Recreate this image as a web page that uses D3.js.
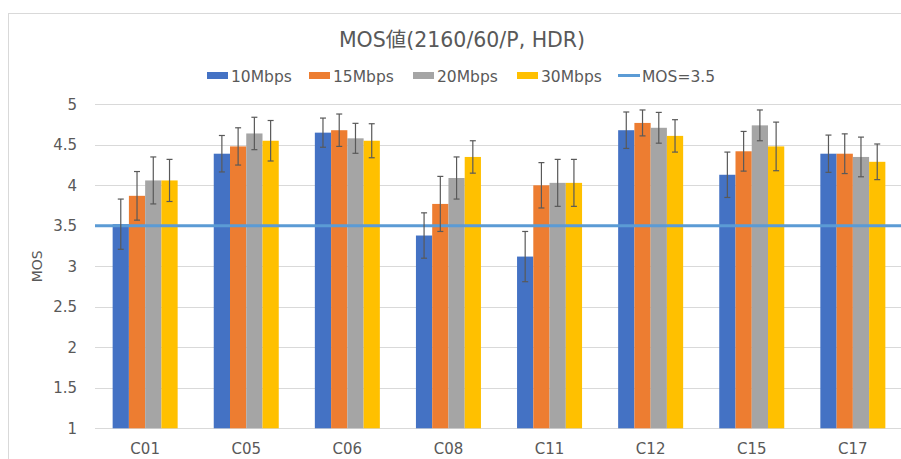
<!DOCTYPE html>
<html><head><meta charset="utf-8">
<script src="https://cdn.jsdelivr.net/npm/d3@7"></script>
<style>
html,body{margin:0;padding:0;background:#fff;}
svg text{font-family:"DejaVu Sans","Noto Sans CJK JP",sans-serif;fill:#595959;}
</style></head>
<body><svg id="c" width="901" height="459"></svg>
<script>
const categories = ["C01","C05","C06","C08","C11","C12","C15","C17"];
const seriesNames = ["10Mbps","15Mbps","20Mbps","30Mbps"];
const v10 = [3.52, 4.39, 4.65, 3.38, 3.12, 4.68, 4.13, 4.39];
const v15 = [3.87, 4.48, 4.68, 3.77, 4.00, 4.77, 4.42, 4.39];
const v20 = [4.06, 4.64, 4.58, 4.09, 4.03, 4.71, 4.74, 4.35];
const v30 = [4.06, 4.55, 4.55, 4.35, 4.03, 4.61, 4.48, 4.29];
const e10 = [0.31, 0.225, 0.18, 0.28, 0.31, 0.225, 0.28, 0.23];
const e15 = [0.30, 0.23, 0.20, 0.34, 0.28, 0.16, 0.245, 0.245];
const e20 = [0.29, 0.20, 0.185, 0.26, 0.29, 0.19, 0.19, 0.245];
const e30 = [0.26, 0.25, 0.21, 0.20, 0.29, 0.20, 0.30, 0.22];
const yTicks = [1,1.5,2,2.5,3,3.5,4,4.5,5];
const refValue = 3.5;
const refLabel = "MOS=3.5";
const title = "MOS値(2160/60/P, HDR)";
const yLabel = "MOS";

const colors = ["#4472C4","#ED7D31","#A5A5A5","#FFC000"];
const refColor = "#5B9BD5";
const values = [v10,v15,v20,v30];
const errs = [e10,e15,e20,e30];

const svg = d3.select("#c");
// chart frame
svg.append("rect").attr("x",8.5).attr("y",13.5).attr("width",1000).attr("height",1000)
  .attr("fill","none").attr("stroke","#d9d9d9");

const x0 = d3.scaleBand().domain(categories).range([94.6, 903.4]).paddingInner(0.357).paddingOuter(0.1785);
const x1 = d3.scaleBand().domain(seriesNames).range([0, x0.bandwidth()]);
const y = d3.scaleLinear().domain([1,5]).range([428.3,104.3]);

// gridlines
svg.append("g").selectAll("line").data(yTicks).join("line")
  .attr("x1",95).attr("x2",901)
  .attr("y1",d=>Math.round(y(d))+0.5).attr("y2",d=>Math.round(y(d))+0.5)
  .attr("stroke","#d9d9d9").attr("stroke-width",1);

// y tick labels
svg.append("g").selectAll("text").data(yTicks).join("text")
  .attr("x",77).attr("y",d=>y(d)).attr("dy","0.36em")
  .attr("text-anchor","end").attr("font-size","15px").text(d=>d);

// y label
svg.append("text").attr("transform",`translate(42,${y(3)}) rotate(-90)`)
  .attr("text-anchor","middle").attr("font-size","14px").text(yLabel);

// bars
const flat = [];
categories.forEach((c,i)=>seriesNames.forEach((s,j)=>flat.push({c,s,j,v:values[j][i],e:errs[j][i]})));
svg.append("g").selectAll("rect").data(flat).join("rect")
  .attr("x",d=>x0(d.c)+x1(d.s)).attr("width",x1.bandwidth())
  .attr("y",d=>y(d.v)).attr("height",d=>y(1)-y(d.v))
  .attr("fill",d=>colors[d.j]);

// reference line
svg.append("line").attr("x1",95).attr("x2",901).attr("y1",y(refValue)).attr("y2",y(refValue))
  .attr("stroke",refColor).attr("stroke-width",3);

// error bars
const eg = svg.append("g").attr("stroke","#595959").attr("stroke-width",1.2);
flat.forEach(d=>{
  const cx = x0(d.c)+x1(d.s)+x1.bandwidth()/2;
  const t = y(d.v+d.e), b = y(d.v-d.e);
  eg.append("line").attr("x1",cx).attr("x2",cx).attr("y1",t).attr("y2",b);
  eg.append("line").attr("x1",cx-3).attr("x2",cx+3).attr("y1",t).attr("y2",t);
  eg.append("line").attr("x1",cx-3).attr("x2",cx+3).attr("y1",b).attr("y2",b);
});

// category labels
svg.append("g").selectAll("text").data(categories).join("text")
  .attr("x",d=>x0(d)+x0.bandwidth()/2).attr("y",449).attr("dy","0.36em")
  .attr("text-anchor","middle").attr("font-size","15px").text(d=>d);

// title
svg.append("text").attr("x",462).attr("y",47).attr("text-anchor","middle")
  .attr("font-size","20.5px").text(title);

// legend
const legendItems = seriesNames.map((s,i)=>({label:s,color:colors[i],type:"rect"}))
  .concat([{label:refLabel,color:refColor,type:"line"}]);
const legendX = [207,309,413,517,618];
const lg = svg.append("g");
legendItems.forEach((it,i)=>{
  const gx = legendX[i];
  if(it.type==="rect"){
    lg.append("rect").attr("x",gx).attr("y",72).attr("width",21).attr("height",7).attr("fill",it.color);
  } else {
    lg.append("line").attr("x1",gx).attr("x2",gx+22).attr("y1",75.5).attr("y2",75.5)
      .attr("stroke",it.color).attr("stroke-width",3);
  }
  lg.append("text").attr("x",gx+24).attr("y",76).attr("dy","0.36em")
    .attr("font-size","15.5px").text(it.label);
});
</script></body></html>
